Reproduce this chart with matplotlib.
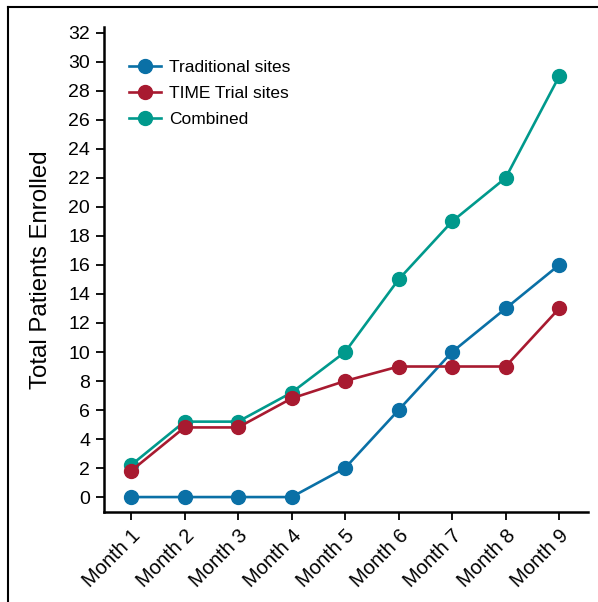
import matplotlib
matplotlib.use("Agg")
import matplotlib.pyplot as plt
from matplotlib.lines import Line2D

plt.rcParams['font.family'] = ['Liberation Sans', 'DejaVu Sans']

months = ["Month 1", "Month 2", "Month 3", "Month 4", "Month 5",
          "Month 6", "Month 7", "Month 8", "Month 9"]
traditional = [0, 0, 0, 0, 2, 6, 10, 13, 16]
time_trial = [1.8, 4.8, 4.8, 6.8, 8, 9, 9, 9, 13]
combined = [2.2, 5.2, 5.2, 7.2, 10, 15, 19, 22, 29]
y_ticks = list(range(0, 33, 2))

c_trad = "#0a70a6"
c_time = "#a81a30"
c_comb = "#00998c"

fig = plt.figure(figsize=(5.98, 6.02), dpi=100)
ax = fig.add_axes([0.1739, 0.1495, 0.8094, 0.8055])

x = list(range(1, len(months) + 1))
ms = 10
lw = 1.9
ax.plot(x, traditional, '-o', color=c_trad, lw=lw, ms=ms, label="Traditional sites", zorder=3)
ax.plot(x, combined, '-o', color=c_comb, lw=lw, ms=ms, label="Combined", zorder=3)
ax.plot(x, time_trial, '-o', color=c_time, lw=lw, ms=ms, label="TIME Trial sites", zorder=4)

ax.set_xlim(0.495, 9.54)
ax.set_ylim(-1.03, 32.4)
ax.set_yticks(y_ticks)
ax.set_xticks(x)
ax.set_xticklabels(months, rotation=45, ha='right', va='top', rotation_mode='anchor', fontsize=14.5)
ax.tick_params(axis='y', labelsize=14, length=6, width=1.3, direction='out', pad=4)
ax.tick_params(axis='x', length=6, width=1.3, direction='out', pad=4)
for s in ['top', 'right']:
    ax.spines[s].set_visible(False)
for s in ['left', 'bottom']:
    ax.spines[s].set_linewidth(1.8)
ax.set_ylabel("Total Patients Enrolled", fontsize=17.3, labelpad=12)

handles, labels = ax.get_legend_handles_labels()
order = [0, 2, 1]
ax.legend([handles[i] for i in order], [labels[i] for i in order],
          loc='upper left', bbox_to_anchor=(0.02, 0.965), frameon=False,
          fontsize=12.5, handlelength=1.8, handletextpad=0.5, labelspacing=0.62)

fig.add_artist(Line2D([0.0134, 0.0134], [0.0, 0.988], color='black', lw=1.5, transform=fig.transFigure))
fig.add_artist(Line2D([0.0134, 1.0], [0.988, 0.988], color='black', lw=1.5, transform=fig.transFigure))

fig.savefig("out.png", dpi=100)
